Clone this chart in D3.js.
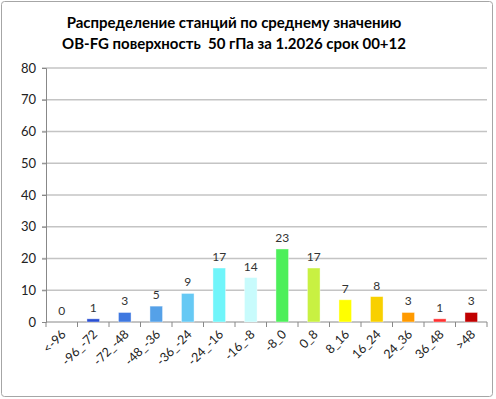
<!DOCTYPE html>
<html>
<head>
<meta charset="utf-8">
<script src="https://cdn.jsdelivr.net/npm/d3@7"></script>
<style>
  body { margin: 0; background: #fff; }
  svg text { font-family: Lato, "Open Sans", sans-serif; white-space: pre; }
</style>
</head>
<body>
<div id="Chart"></div>
<script>
// chart data
var categories = ["<-96", "-96_-72", "-72_-48", "-48_-36", "-36_-24", "-24_-16", "-16_-8",
                  "-8_0", "0_8", "8_16", "16_24", "24_36", "36_48", ">48"];
var counts = [0, 1, 3, 5, 9, 17, 14, 23, 17, 7, 8, 3, 1, 3];
var barColors = ["#2a4fd2", "#2a4fd2", "#3f78e0", "#55a1e8", "#66c9f4", "#70f5fa", "#c8fbfc",
                 "#4def5a", "#c8f142", "#ffff00", "#f8d000", "#ff9a00", "#ff3030", "#c00000"];
var yTicks = [0, 10, 20, 30, 40, 50, 60, 70, 80];
var titleLines = ["Распределение станций по среднему значению",
                  "OB-FG поверхность  50 гПа за 1.2026 срок 00+12"];

const W = 496, H = 399;
const margin = { top: 68, right: 9, bottom: 77, left: 46 },
    width = W - margin.left - margin.right,
    height = H - margin.top - margin.bottom;

var root = d3.select("#Chart").append("svg")
    .attr("width", W)
    .attr("height", H);

// outer frame
root.append("rect")
    .attr("x", 1.5).attr("y", 1.5)
    .attr("width", 491).attr("height", 395)
    .attr("rx", 3)
    .attr("fill", "#fff")
    .attr("stroke", "#a6a6a6");

// title
root.selectAll("text.title")
    .data(titleLines)
    .enter().append("text")
    .attr("class", "title")
    .attr("x", 234)
    .attr("y", (d, i) => 28 + i * 21)
    .attr("text-anchor", "middle")
    .attr("font-size", "15px")
    .attr("font-weight", "bold")
    .attr("fill", "#000")
    .text(d => d);

var svg = root.append("g")
    .attr("transform", `translate(${margin.left}, ${margin.top})`);

var x = d3.scaleBand()
    .domain(categories)
    .range([0, width])
    .paddingInner(0.6)
    .paddingOuter(0.3);

var y = d3.scaleLinear()
    .domain([0, 80])
    .range([height, 0]);

// gridlines
svg.append("g")
    .selectAll("line")
    .data(yTicks.filter(d => d > 0))
    .enter().append("line")
    .attr("x1", -4).attr("x2", width)
    .attr("y1", d => y(d)).attr("y2", d => y(d))
    .attr("stroke", "#c4c4c4")
    .attr("stroke-width", 1.5);

// y axis
var yAxis = svg.append("g")
    .call(d3.axisLeft(y).tickValues(yTicks).tickSize(4).tickPadding(6));
yAxis.select(".domain").attr("stroke", "#888");
yAxis.selectAll(".tick line").attr("stroke", "#888");
yAxis.selectAll("text").attr("font-size", "13px").attr("fill", "#222")
    .style("font-family", "Lato, sans-serif");

// x axis (ticks at category boundaries)
var bounds = d3.range(categories.length + 1).map(i => i * width / categories.length);
var xg = svg.append("g").attr("transform", `translate(0, ${height})`);
xg.append("line")
    .attr("x1", 0).attr("x2", width)
    .attr("stroke", "#888");
xg.selectAll("line.tk")
    .data(bounds)
    .enter().append("line")
    .attr("class", "tk")
    .attr("x1", d => d).attr("x2", d => d)
    .attr("y1", 0).attr("y2", 5)
    .attr("stroke", "#888");
xg.selectAll("text")
    .data(categories)
    .enter().append("text")
    .attr("transform", d => `translate(${x(d) + x.bandwidth() / 2 + 5}, 13) rotate(-45)`)
    .attr("text-anchor", "end")
    .attr("font-size", "12.5px")
    .attr("fill", "#222")
    .text(d => d);

// bars
svg.selectAll("rect.bar")
    .data(counts)
    .enter().append("rect")
    .attr("class", "bar")
    .attr("x", (d, i) => x(categories[i]))
    .attr("y", d => y(d))
    .attr("width", x.bandwidth())
    .attr("height", d => height - y(d))
    .attr("fill", (d, i) => barColors[i])
    .attr("stroke", "#fff")
    .attr("stroke-opacity", 0.5)
    .attr("stroke-width", 0.8);

// data labels
svg.selectAll("text.lbl")
    .data(counts)
    .enter().append("text")
    .attr("class", "lbl")
    .attr("x", (d, i) => x(categories[i]) + x.bandwidth() / 2)
    .attr("y", d => y(d) - 7)
    .attr("text-anchor", "middle")
    .attr("font-size", "12px")
    .attr("fill", "#333")
    .text(d => d);
</script>
</body>
</html>
